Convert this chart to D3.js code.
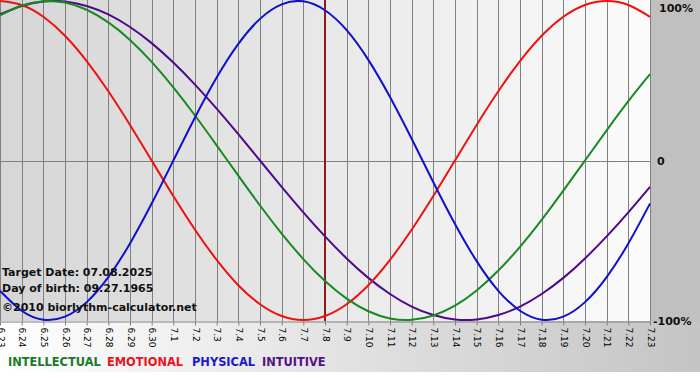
<!DOCTYPE html>
<html>
<head>
<meta charset="utf-8">
<script src="https://cdn.jsdelivr.net/npm/d3@7"></script>
<style>
  body { margin: 0; background: #fff; }
  svg { display: block; }
</style>
</head>
<body>
<svg id="chart" width="700" height="380"></svg>
<script>
// days shown on the x axis
var dayLabels = ["6.23","6.24","6.25","6.26","6.27","6.28","6.29","6.30",
    "7.1","7.2","7.3","7.4","7.5","7.6","7.7","7.8","7.9","7.10","7.11","7.12",
    "7.13","7.14","7.15","7.16","7.17","7.18","7.19","7.20","7.21","7.22","7.23"];

// -1 .. 1
var intellectual = [0.910,0.972,0.999,0.990,0.945,0.866,0.756,0.618,0.458,0.282,0.095,-0.095,-0.282,-0.458,-0.618,-0.756,
    -0.866,-0.945,-0.990,-0.999,-0.972,-0.910,-0.815,-0.690,-0.541,-0.372,-0.189,0.000,0.189,0.372,0.541];
var emotional = [1.000,0.975,0.901,0.782,0.623,0.434,0.223,0.000,-0.223,-0.434,-0.623,-0.782,-0.901,-0.975,-1.000,-0.975,
    -0.901,-0.782,-0.623,-0.434,-0.223,0.000,0.223,0.434,0.623,0.782,0.901,0.975,1.000,0.975,0.901];
var physical = [-0.817,-0.942,-0.998,-0.979,-0.888,-0.731,-0.520,-0.270,0.000,0.270,0.520,0.731,0.888,0.979,0.998,0.942,
    0.817,0.631,0.398,0.136,-0.136,-0.398,-0.631,-0.817,-0.942,-0.998,-0.979,-0.888,-0.731,-0.520,-0.270];
var intuitive = [0.916,0.969,0.997,0.997,0.969,0.916,0.837,0.736,0.614,0.476,0.325,0.165,0.000,-0.165,-0.325,-0.476,
    -0.614,-0.736,-0.837,-0.916,-0.969,-0.997,-0.997,-0.969,-0.916,-0.837,-0.736,-0.614,-0.476,-0.325,-0.165];

var seriesNames = ["INTELLECTUAL","EMOTIONAL","PHYSICAL","INTUITIVE"];
var seriesColors = ["#178a22","#ee1111","#1010cc","#4e0a8a"];
var legendColors = ["#1a7a2a","#ee1122","#1a1acc","#551188"];
var legendX = [8, 107, 192, 262];
var targetIndex = 15;   // 7.8
var infoLines = ["Target Date: 07.08.2025","Day of birth: 09.27.1965","\u00a92010 biorlythm-calculator.net"];

var svg = d3.select("#chart");
var W = 650, H = 321;

var x = d3.scaleLinear().domain([0, dayLabels.length - 1]).range([0, W]);
var y = d3.scaleLinear().domain([-1, 1]).range([H - 1, 1]);

var defs = svg.append("defs");
var g1 = defs.append("linearGradient").attr("id","plotBg");
g1.append("stop").attr("offset","0%").attr("stop-color","#d6d6d6");
g1.append("stop").attr("offset","100%").attr("stop-color","#fbfbfb");
var g2 = defs.append("linearGradient").attr("id","bottomBg");
g2.append("stop").attr("offset","0%").attr("stop-color","#ffffff");
g2.append("stop").attr("offset","100%").attr("stop-color","#c4c4c4");

// backgrounds
svg.append("rect").attr("x",0).attr("y",H).attr("width",700).attr("height",372-H).attr("fill","url(#bottomBg)");
svg.append("rect").attr("x",W).attr("y",0).attr("width",50).attr("height",H).attr("fill","#c0c0c0");
svg.append("rect").attr("x",0).attr("y",0).attr("width",W).attr("height",H).attr("fill","url(#plotBg)");

// grid
svg.append("g").selectAll("line")
    .data(d3.range(dayLabels.length))
    .enter().append("line")
    .attr("x1", function(d){ return Math.round(x(d)) + 0.5; })
    .attr("x2", function(d){ return Math.round(x(d)) + 0.5; })
    .attr("y1", 0).attr("y2", H)
    .attr("stroke", "#808080");
svg.append("line")
    .attr("x1",0).attr("x2",W)
    .attr("y1",Math.round(y(0)) + 0.5).attr("y2",Math.round(y(0)) + 0.5)
    .attr("stroke","#808080");

// x axis
var xAxis = d3.axisBottom(x)
    .tickValues(d3.range(dayLabels.length))
    .tickFormat(function(d){ return dayLabels[d]; })
    .tickSize(4).tickSizeOuter(0);
var ax = svg.append("g")
    .attr("transform","translate(0," + (H + 0.5) + ")")
    .call(xAxis);
ax.select(".domain").attr("stroke","#808080");
ax.selectAll(".tick line").attr("stroke","#808080");
ax.selectAll(".tick text")
    .attr("transform","rotate(90)")
    .attr("x", 6).attr("y", 0).attr("dy","0.32em")
    .style("text-anchor","start")
    .style("font-family","Tahoma, 'DejaVu Sans', sans-serif")
    .style("font-size","9px")
    .attr("fill","#000");

// curves
var allSeries = [intuitive, emotional, intellectual, physical];
var allColors = [seriesColors[3], seriesColors[1], seriesColors[0], seriesColors[2]];
var line = d3.line()
    .x(function(d, i){ return x(i); })
    .y(function(d){ return y(d); })
    .curve(d3.curveNatural);

// target day marker
svg.append("line")
    .attr("x1", x(targetIndex)).attr("x2", x(targetIndex))
    .attr("y1", 0).attr("y2", H)
    .attr("stroke", "#8b1c1c").attr("stroke-width", 2);

svg.append("g").selectAll("path")
    .data(allSeries)
    .enter().append("path")
    .attr("d", line)
    .attr("fill","none")
    .attr("stroke", function(d, i){ return allColors[i]; })
    .attr("stroke-width", 2);

// right labels
var yLabels = [[1,"100%",8],[0,"0",y(0)+1],[-1,"-100%",H]];
svg.append("g").selectAll("text")
    .data(yLabels)
    .enter().append("text")
    .attr("x", function(d){ return d[0] === -1 ? 653 : (d[0] === 0 ? 657 : 659); })
    .attr("y", function(d){ return d[2]; })
    .attr("dy","0.35em")
    .style("font-family","Verdana, 'DejaVu Sans', sans-serif")
    .style("font-weight","bold")
    .style("font-size","11px")
    .attr("fill","#111")
    .text(function(d){ return d[1]; });

// info text
svg.append("g").selectAll("text")
    .data(infoLines)
    .enter().append("text")
    .attr("x", 2)
    .attr("y", function(d, i){ return [276, 292, 311][i]; })
    .style("font-family","Verdana, 'DejaVu Sans', sans-serif")
    .style("font-weight","bold")
    .style("font-size","11px")
    .attr("fill","#111")
    .text(function(d){ return d; });

// legend
svg.append("g").selectAll("text")
    .data(seriesNames)
    .enter().append("text")
    .attr("x", function(d, i){ return legendX[i]; })
    .attr("y", 366)
    .style("font-family","Tahoma, 'DejaVu Sans', sans-serif")
    .style("font-weight","bold")
    .style("font-size","11.4px")
    .attr("fill", function(d, i){ return legendColors[i]; })
    .text(function(d){ return d; });
</script>
</body>
</html>
